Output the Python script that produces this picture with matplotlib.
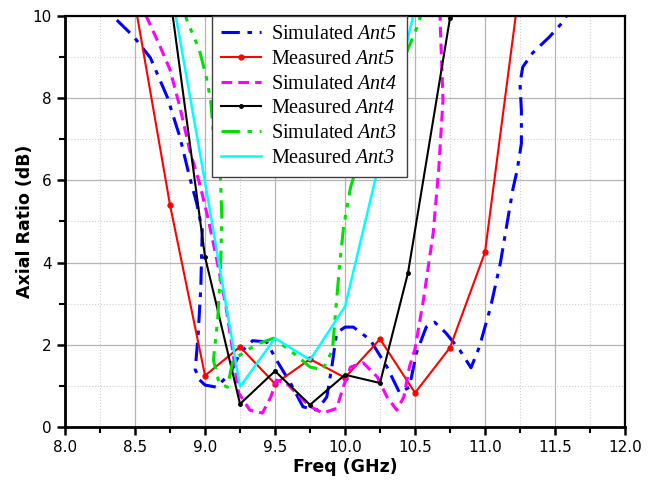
import numpy as np
import matplotlib
matplotlib.use("Agg")
import matplotlib.pyplot as plt
from matplotlib.ticker import MultipleLocator, FormatStrFormatter

# math text is only used for the italic antenna names
plt.rcParams['mathtext.fontset'] = 'custom'
plt.rcParams['mathtext.rm'] = 'Liberation Serif:italic'
plt.rcParams['mathtext.it'] = 'Liberation Serif:italic'

# Simulated Ant5 (blue dash-dot)
sim5_f = [8.37, 8.49, 8.61, 8.73, 8.82, 8.89, 8.94, 8.98, 8.97, 8.95, 8.93, 8.96, 9.0, 9.08,
          9.18, 9.25, 9.34, 9.44, 9.51, 9.61, 9.7, 9.8, 9.87, 9.91, 9.94, 10.0, 10.06, 10.18,
          10.3, 10.39, 10.46, 10.51, 10.58, 10.64, 10.72, 10.82, 10.9, 10.96, 11.04, 11.11,
          11.16, 11.2, 11.23, 11.26, 11.26, 11.25, 11.27, 11.34, 11.46, 11.55, 11.6]
sim5_ar = [9.9, 9.5, 8.98, 8.03, 7.06, 6.08, 5.45, 4.8, 3.4, 2.2, 1.4, 1.15, 1.02, 0.97,
           1.3, 1.8, 2.1, 2.07, 1.63, 1.07, 0.49, 0.41, 0.73, 1.56, 2.29, 2.43, 2.43, 2.12,
           1.46, 0.83, 0.97, 1.8, 2.43, 2.55, 2.29, 1.87, 1.44, 1.95, 2.92, 3.99,
           5.0, 5.8, 6.25, 6.9, 7.7, 8.37, 8.76, 9.1, 9.49, 9.83, 10.1]

# Measured Ant5 (red, dots)
mea5_f = [8.5, 8.75, 9.0, 9.25, 9.5, 9.75, 10.0, 10.25, 10.5, 10.75, 11.0, 11.25]
mea5_ar = [10.3, 5.4, 1.25, 1.95, 1.05, 1.65, 1.2, 2.14, 0.83, 1.93, 4.25, 10.8]

# Simulated Ant4 (magenta dashed)
sim4_f = [8.55, 8.58, 8.68, 8.75, 8.82, 8.89, 8.96, 9.02, 9.08, 9.15, 9.2, 9.24, 9.32, 9.41,
          9.47, 9.51, 9.58, 9.65, 9.75, 9.84, 9.94, 9.99, 10.04, 10.13, 10.23, 10.3, 10.37,
          10.42, 10.46, 10.5, 10.56, 10.63, 10.67, 10.7, 10.69, 10.68, 10.68]
sim4_ar = [10.5, 10.0, 9.25, 8.69, 7.79, 6.74, 5.94, 5.1, 4.14, 2.92, 1.8, 0.83, 0.41, 0.34,
           0.73, 1.14, 1.07, 0.83, 0.5, 0.34, 0.45, 1.0, 1.46, 1.56, 1.22, 0.73, 0.41,
           0.73, 1.46, 1.9, 3.09, 4.72, 6.3, 7.96, 8.9, 9.83, 10.2]

# Measured Ant4 (black, dots)
mea4_f = [8.75, 9.0, 9.25, 9.5, 9.75, 10.0, 10.25, 10.45, 10.75]
mea4_ar = [10.5, 4.14, 0.56, 1.36, 0.54, 1.27, 1.07, 3.75, 9.95]

# Simulated Ant3 (green dash-dot-dot)
sim3_f = [8.84, 8.87, 8.96, 9.01, 9.04, 9.06, 9.11, 9.12, 9.11, 9.09, 9.06, 9.1, 9.16, 9.2,
          9.3, 9.39, 9.49, 9.63, 9.75, 9.84, 9.91, 9.96, 9.99, 10.04, 10.1, 10.2, 10.3,
          10.4, 10.5, 10.55]
sim3_ar = [10.3, 9.9, 9.17, 8.5, 7.96, 7.15, 6.08, 5.1, 3.75, 2.6, 1.63, 1.07, 0.97, 1.63,
           1.87, 2.04, 2.16, 1.8, 1.46, 1.39, 1.87, 3.89, 4.87, 5.84, 6.5, 7.3, 8.1,
           8.8, 9.6, 10.1]

# Measured Ant3 (cyan)
mea3_f = [8.75, 9.0, 9.25, 9.5, 9.75, 10.0, 10.25, 10.5]
mea3_ar = [10.8, 5.96, 0.98, 2.16, 1.63, 2.93, 6.5, 10.2]

fig = plt.figure(figsize=(6.49, 4.84), dpi=100)
ax = fig.add_axes([0.1002, 0.1178, 0.8628, 0.8492])

ax.plot(sim5_f, sim5_ar, color='blue', lw=2.2, dashes=[6, 2.5, 1.5, 2.5],
        label='Simulated $\\mathrm{Ant5}$')
ax.plot(mea5_f, mea5_ar, color='red', lw=1.5, marker='o', ms=3.5,
        label='Measured $\\mathrm{Ant5}$')
ax.plot(sim4_f, sim4_ar, color='magenta', lw=2.2, dashes=[3.5, 2],
        label='Simulated $\\mathrm{Ant4}$')
ax.plot(mea4_f, mea4_ar, color='black', lw=1.5, marker='o', ms=2.5,
        label='Measured $\\mathrm{Ant4}$')
ax.plot(sim3_f, sim3_ar, color='#00e000', lw=2.2, dashes=[6, 2.5, 1.5, 2.5, 1.5, 2.5],
        label='Simulated $\\mathrm{Ant3}$')
ax.plot(mea3_f, mea3_ar, color='cyan', lw=1.8,
        label='Measured $\\mathrm{Ant3}$')

ax.set_xlim(8.0, 12.0)
ax.set_ylim(0, 10)
ax.xaxis.set_major_locator(MultipleLocator(0.5))
ax.xaxis.set_minor_locator(MultipleLocator(0.25))
ax.yaxis.set_major_locator(MultipleLocator(2))
ax.yaxis.set_minor_locator(MultipleLocator(1))
ax.xaxis.set_major_formatter(FormatStrFormatter('%.1f'))

ax.grid(which='major', color='#b4b4b4', lw=0.9, ls='-')
ax.grid(which='minor', color='#d0d0d0', lw=0.8, ls=':')
ax.set_axisbelow(True)

for s in ['left', 'bottom']:
    ax.spines[s].set_linewidth(2.0)
for s in ['top', 'right']:
    ax.spines[s].set_linewidth(1.6)
ax.tick_params(which='major', direction='out', length=6, width=1.8, labelsize=11)
ax.tick_params(which='minor', direction='out', length=4, width=1.5)

ax.set_xlabel('Freq (GHz)', fontsize=12.5, fontweight='bold', labelpad=2)
ax.set_ylabel('Axial Ratio (dB)', fontsize=12.5, fontweight='bold', labelpad=-1)

leg = ax.legend(loc='upper left', bbox_to_anchor=(0.2625, 1.0), borderaxespad=0,
                prop={'family': 'Liberation Serif', 'size': 14.5},
                handlelength=2.0, handletextpad=0.5, labelspacing=0.28,
                borderpad=0.45, fancybox=False, framealpha=1, edgecolor='#404040')
leg.get_frame().set_linewidth(1.0)

fig.savefig('out.png', dpi=100)
